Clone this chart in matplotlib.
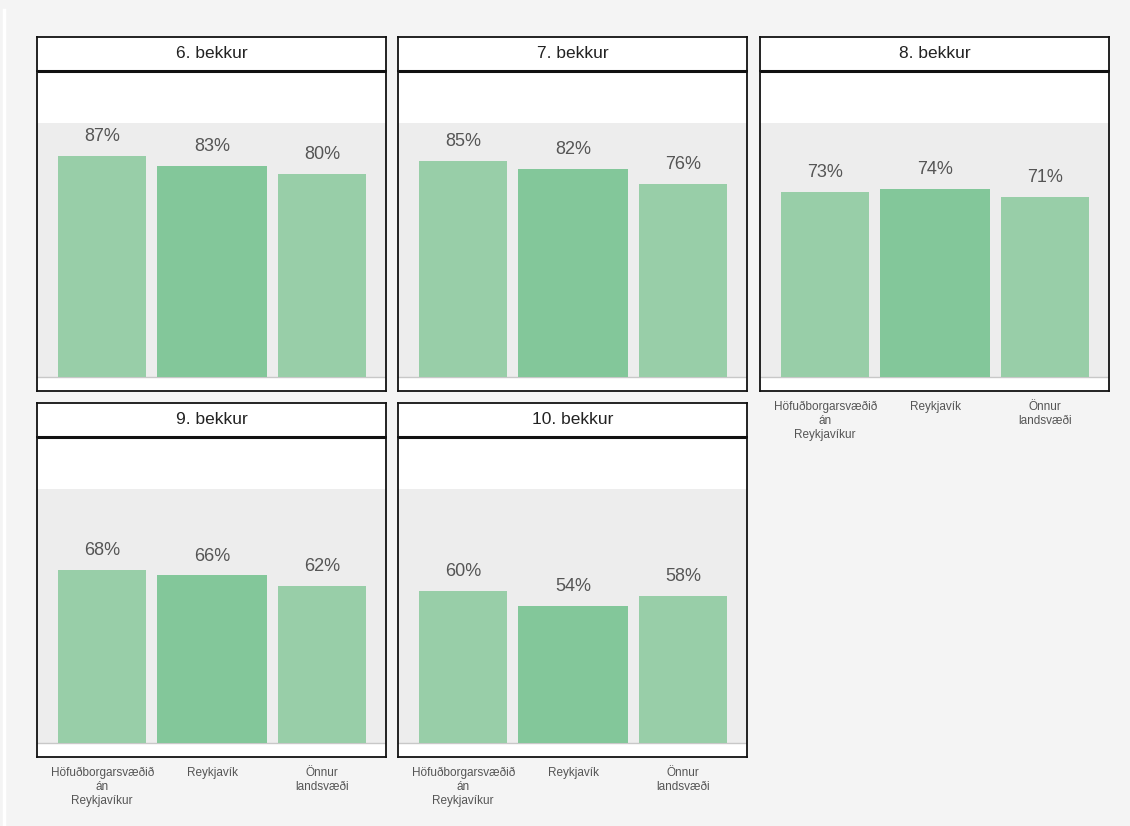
import matplotlib.pyplot as plt
import numpy as np

# data
grades = ['6. bekkur', '7. bekkur', '8. bekkur', '9. bekkur', '10. bekkur']
regions = ['Höfuðborgarsvæðið\nán\nReykjavíkur', 'Reykjavík', 'Önnur\nlandsvæði']
values = [
    [87, 83, 80],
    [85, 82, 76],
    [73, 74, 71],
    [68, 66, 62],
    [60, 54, 58],
]
bar_colors = ['#98cea8', '#83c79a', '#98cea8']
bar_widths = [0.80, 1.0, 0.80]

plt.rcParams['font.family'] = ['Liberation Sans', 'DejaVu Sans']

W, H = 1130, 826
fig = plt.figure(figsize=(W / 100, H / 100), dpi=100)
fig.patch.set_facecolor('#f4f4f4')

# thin white line on the far left
fig.add_artist(plt.Line2D([4 / W, 4 / W], [0, 1 - 10 / H], transform=fig.transFigure,
                          color='white', lw=2.5))

def px_axes(x0, y0, w, h, z=0):
    return fig.add_axes([x0 / W, 1 - (y0 + h) / H, w / W, h / H], zorder=z)

col_x = [37, 398, 760]
row_y = [37, 403]
pw, hh, bh = 349, 34, 320
# panels showing the category labels (bottom of each column)
labelled = {2, 3, 4}

for i, g in enumerate(grades):
    r, c = divmod(i, 3)
    x0, y0 = col_x[c], row_y[r]

    # plot body
    ax = px_axes(x0, y0 + hh, pw, bh)
    ax.set_facecolor('white')
    ax.axhspan(0, 100, color='#ededed', lw=0, zorder=0)
    ax.axhline(0, color='#c8c8c8', lw=1, zorder=1)
    xs = np.arange(len(regions))
    ax.bar(xs, values[i], width=bar_widths, color=bar_colors, zorder=2)
    for xv, v in zip(xs, values[i]):
        ax.text(xv, v + 7.6, f'{v}%', ha='center', va='center', fontsize=13, color='#555555')
    ax.set_xlim(-0.594, 2.584)
    ax.set_ylim(-5.51, 120.47)
    ax.set_yticks([])
    if i in labelled:
        ax.set_xticks(xs)
        ax.set_xticklabels(regions, fontsize=8.5, color='#555555', linespacing=1.25)
        ax.tick_params(axis='x', length=0, pad=7)
    else:
        ax.set_xticks([])
    for s in ax.spines.values():
        s.set_linewidth(1.3)
        s.set_color('#111111')
    ax.spines['top'].set_visible(False)

    # header strip, drawn on top
    hax = px_axes(x0, y0, pw, hh, z=2)
    hax.set_facecolor('white')
    hax.set_xticks([])
    hax.set_yticks([])
    for s in hax.spines.values():
        s.set_linewidth(1.3)
        s.set_color('#111111')
    hax.spines['bottom'].set_linewidth(2.2)
    hax.spines['bottom'].set_capstyle('butt')
    hax.text(0.5, 0.5, g, ha='center', va='center', fontsize=12.5, color='#222222',
             transform=hax.transAxes)

fig.savefig('out.png', dpi=100, facecolor=fig.get_facecolor())
